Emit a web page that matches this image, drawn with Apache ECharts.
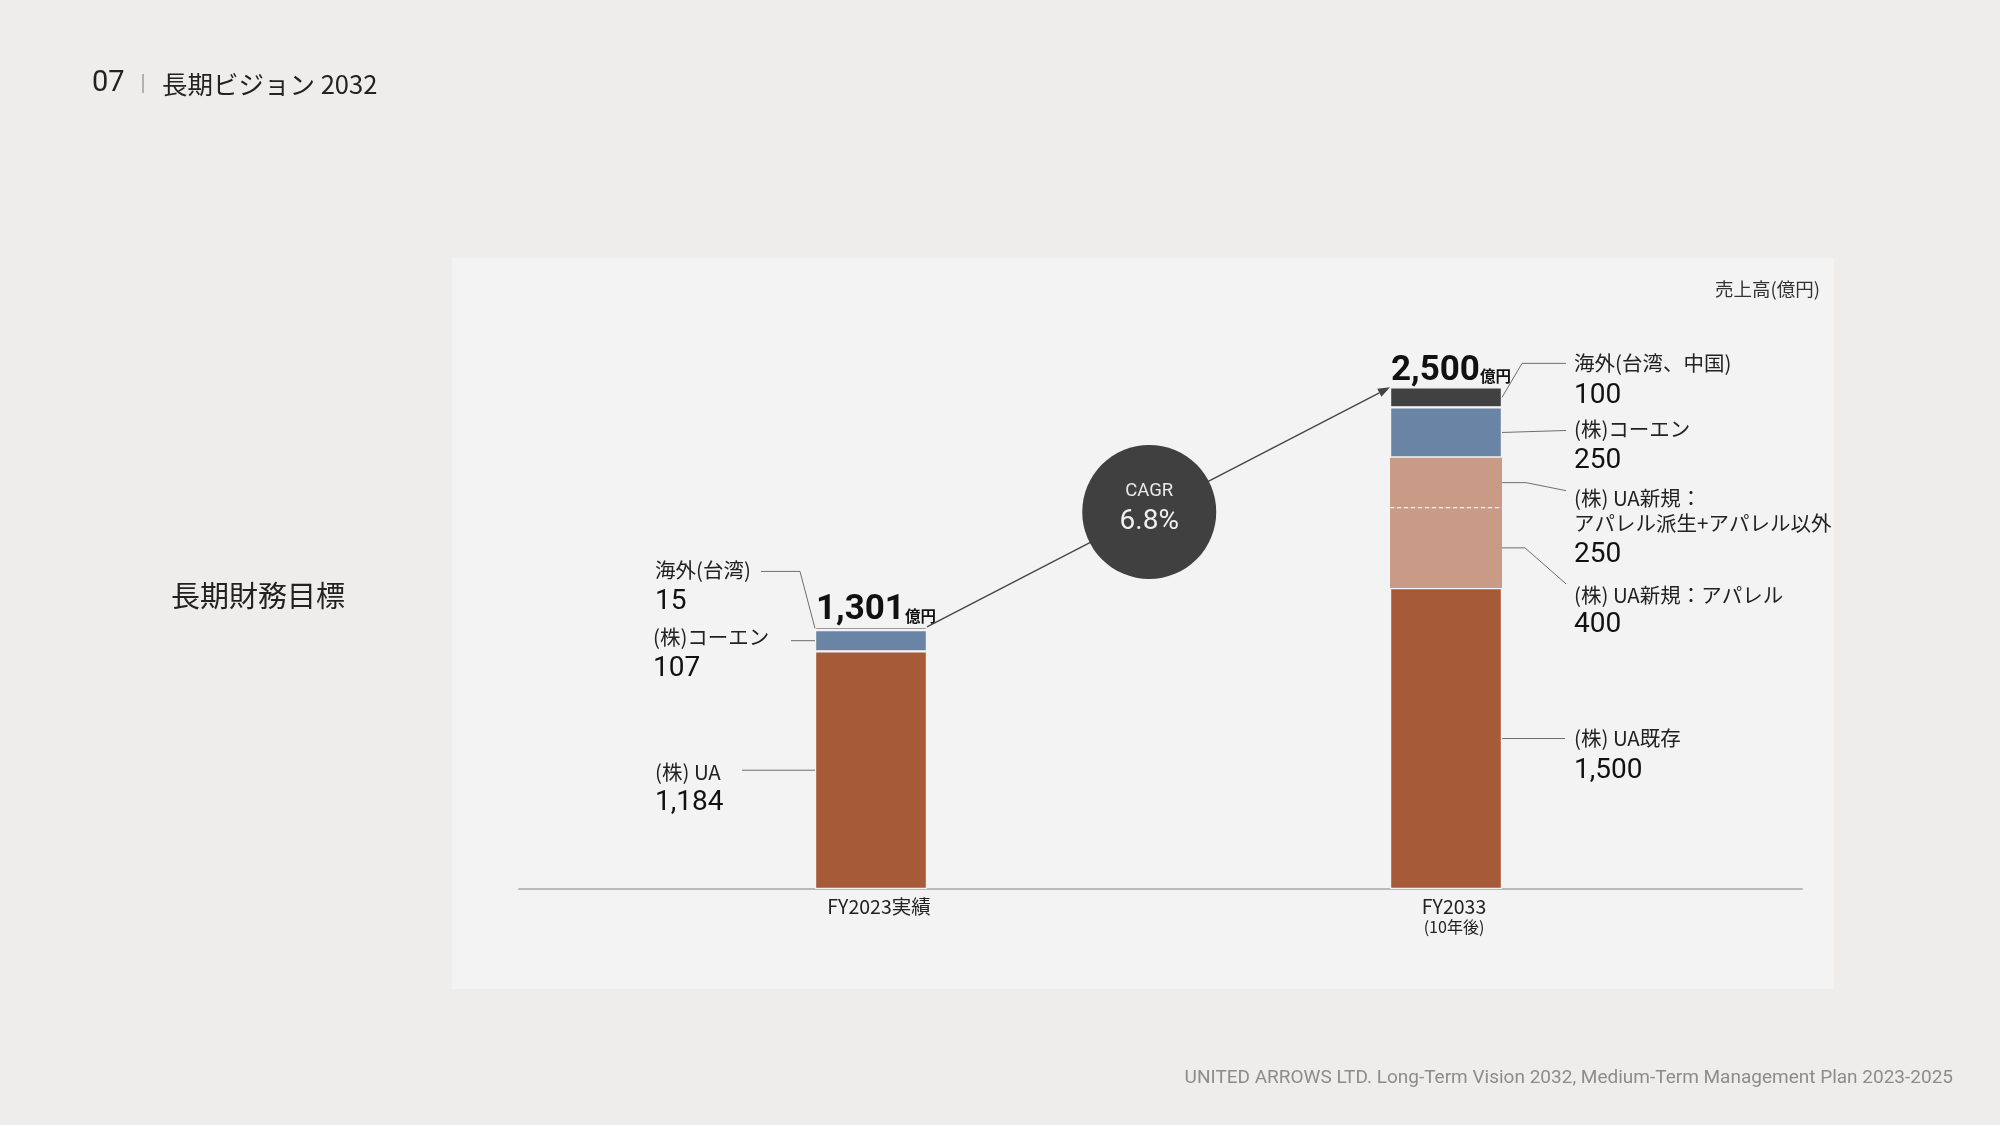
<!DOCTYPE html>
<html>
<head>
<meta charset="utf-8">
<script src="https://cdn.jsdelivr.net/npm/echarts@6/dist/echarts.min.js"></script>
<style>
html,body{margin:0;padding:0;background:#eeedeb;}
#c{width:2000px;height:1125px;}
</style>
</head>
<body>
<div id="c"></div>
<script>
// ---------- data ----------
const categories = ['FY2023実績', 'FY2033'];
const axisLabels = ['FY2023実績', 'FY2033\n{s|(10年後)}'];
const uaExisting   = [1184, 1500];
const uaNewApparel = [0, 400];
const uaNewOther   = [0, 250];
const coen         = [107, 250];
const overseas     = [15, 100];
const totals       = [1301, 2500];
const cagrLabel    = 'CAGR';
const cagrValue    = '6.8%';
const unitLabel    = '売上高(億円)';

const segmentNames = {
  0: { overseas: '海外(台湾)', coen: '(株)コーエン', uaExisting: '(株) UA' },
  1: { overseas: '海外(台湾、中国)', coen: '(株)コーエン',
       uaNewOther: '(株) UA新規：\nアパレル派生+アパレル以外',
       uaNewApparel: '(株) UA新規：アパレル', uaExisting: '(株) UA既存' }
};

// ---------- styles / layout ----------
const CJK = '"Noto Sans CJK JP", sans-serif';
const NUM = 'Roboto, "Noto Sans CJK JP", sans-serif';
const BAR_W = 112;
const PANEL = '#f3f3f3';

const seriesDefs = [
  { key: 'uaExisting',   data: uaExisting,   color: '#a65a37', border: 1.2 },
  { key: 'uaNewApparel', data: uaNewApparel, color: '#c99a86', border: 0 },
  { key: 'uaNewOther',   data: uaNewOther,   color: '#c99a86', border: 0 },
  { key: 'coen',         data: coen,         color: '#6a84a6', border: 1.2 },
  { key: 'overseas',     data: overseas,     color: '#414141', border: 1.2 }
];

// leader-line / label layout (offsets relative to the segment anchor on the bar edge)
const leaderLayout = {
  '0-overseas':     { pts: [[-15, -57], [-54, -57]], tx: -160, nameDy: -58, numDy: -26 },
  '0-coen':         { pts: [[-24, 0]],               tx: -162, nameDy: -3,  numDy: 28 },
  '0-uaExisting':   { pts: [[-73, 0]],               tx: -160, nameDy: 2,   numDy: 33 },
  '1-overseas':     { pts: [[20, -34], [64, -34]],   tx: 72,   nameDy: -34, numDy: -1 },
  '1-coen':         { pts: [[64, -2]],               tx: 72,   nameDy: -3,  numDy: 29 },
  '1-uaNewOther':   { pts: [[24, 0], [64, 8]],       tx: 72,   nameDy: 28,  numDy: 72 },
  '1-uaNewApparel': { pts: [[23, 0], [64, 36]],      tx: 72,   nameDy: 47,  numDy: 77 },
  '1-uaExisting':   { pts: [[63, 0]],                tx: 72,   nameDy: 0,   numDy: 32 }
};

const chart = echarts.init(document.getElementById('c'));

const option = {
  backgroundColor: '#eeedeb',
  animation: false,
  grid: [
    { left: 583.5, right: 266.5, top: 287, bottom: 236 },
    { left: 519, right: 198, top: 287, bottom: 236 }
  ],
  xAxis: [
    {
      type: 'category', data: categories, gridIndex: 0,
      axisLine: { show: false }, axisTick: { show: false },
      axisLabel: {
        margin: 8, fontFamily: CJK, fontSize: 19.5, color: '#222', lineHeight: 20,
        padding: [0, 0, 0, 16],
        formatter: (v, i) => axisLabels[i],
        rich: { s: { fontFamily: CJK, fontSize: 16, color: '#222', lineHeight: 19 } }
      }
    },
    {
      type: 'value', gridIndex: 1, min: 0, max: 1,
      axisLine: { show: true, onZero: false, lineStyle: { color: '#b9b9b9', width: 2 } },
      axisTick: { show: false }, axisLabel: { show: false }, splitLine: { show: false }
    }
  ],
  yAxis: [
    { type: 'value', gridIndex: 0, min: 0, max: 3000, show: false },
    { type: 'value', gridIndex: 1, min: 0, max: 1, show: false }
  ],
  series: seriesDefs.map(d => ({
    name: d.key, type: 'bar', stack: 'total', barWidth: BAR_W, data: d.data,
    xAxisIndex: 0, yAxisIndex: 0, silent: true,
    itemStyle: { color: d.color, borderColor: PANEL, borderWidth: d.border },
    emphasis: { disabled: true }
  }))
};
chart.setOption(option);

// ---------- annotations computed from the scales ----------
const px = (cat, val) => chart.convertToPixel({ xAxisIndex: 0, yAxisIndex: 0 }, [cat, val]);
const mids = {}; const tops = [];
categories.forEach((c, ci) => {
  let cum = 0;
  seriesDefs.forEach(d => {
    const v = d.data[ci] || 0;
    mids[ci + '-' + d.key] = cum + v / 2;
    cum += v;
  });
  tops[ci] = cum;
});

const T = (x, y, text, font, size, fill, align, extra) => Object.assign({
  type: 'text', z: 10, x: x, y: y,
  style: Object.assign({ text: text, fontFamily: font, fontSize: size, fill: fill,
    align: align, verticalAlign: 'middle', textAlign: align, textVerticalAlign: 'middle' }, extra || {})
});

const g = [];
// panel
g.push({ type: 'rect', z: -10, shape: { x: 452, y: 258, width: 1382, height: 731 }, style: { fill: PANEL } });

// header
g.push(T(92, 84, '07', NUM, 29, '#222', 'left'));
g.push({ type: 'line', shape: { x1: 143, y1: 74, x2: 143, y2: 93 }, style: { stroke: '#777', lineWidth: 1 } });
g.push(T(162, 84, '長期ビジョン 2032', CJK, 25.5, '#222', 'left'));
g.push(T(171, 596, '長期財務目標', CJK, 29, '#222', 'left'));
g.push(T(1820, 289, unitLabel, CJK, 18.5, '#333', 'right'));
g.push(T(1953, 1078, 'UNITED ARROWS LTD. Long-Term Vision 2032, Medium-Term Management Plan 2023-2025', NUM, 19, '#8c8c8c', 'right'));

// leader lines + labels
Object.keys(segmentNames).forEach(ciStr => {
  const ci = +ciStr;
  const names = segmentNames[ci];
  Object.keys(names).forEach(key => {
    const lay = leaderLayout[ci + '-' + key];
    const [cx, ay] = px(ci, mids[ci + '-' + key]);
    const ax = ci === 0 ? cx - BAR_W / 2 : cx + BAR_W / 2;
    const pts = [[ax, ay]].concat(lay.pts.map(p => [ax + p[0], ay + p[1]]));
    g.push({ type: 'polyline', z: 10, shape: { points: pts }, style: { stroke: '#6f6f6f', lineWidth: 1, fill: null } });
    const val = seriesDefs.find(d => d.key === key).data[ci];
    g.push(T(ax + lay.tx, ay + lay.nameDy, names[key], CJK, 20.5, '#222', 'left', { lineHeight: 25 }));
    g.push(T(ax + lay.tx, ay + lay.numDy, val.toLocaleString('en-US'), NUM, 28, '#111', 'left'));
  });
});

// dashed split inside the UA-new block
{
  const [cx, y] = px(1, uaExisting[1] + uaNewApparel[1]);
  g.push({ type: 'line', z: 10, shape: { x1: cx - BAR_W / 2, y1: y, x2: cx + BAR_W / 2, y2: y }, style: { stroke: '#ffffff', lineWidth: 1.2, lineDash: [4, 3] } });
}

// totals
categories.forEach((c, ci) => {
  const [cx, y] = px(ci, tops[ci]);
  g.push({
    type: 'text', z: 10, x: cx - BAR_W / 2 + 1, y: y + 1,
    style: {
      text: '{b|' + totals[ci].toLocaleString('en-US') + '}{s|億円}',
      align: 'left', verticalAlign: 'bottom', textAlign: 'left', textVerticalAlign: 'bottom',
      rich: {
        b: { fontFamily: NUM, fontSize: 35, fontWeight: 'bold', fill: '#111', color: '#111', lineHeight: 40, verticalAlign: 'bottom' },
        s: { fontFamily: CJK, fontSize: 15.5, fontWeight: 'bold', fill: '#111', color: '#111', lineHeight: 40, verticalAlign: 'bottom', padding: [0, 0, 4, 0] }
      }
    }
  });
});

// growth arrow + CAGR bubble
{
  const [c0, y0] = px(0, tops[0]);
  const [c1, y1] = px(1, tops[1]);
  const p1 = [c0 + BAR_W / 2, y0], p2 = [c1 - BAR_W / 2, y1];
  const dx = p2[0] - p1[0], dy = p2[1] - p1[1], L = Math.hypot(dx, dy);
  const ux = dx / L, uy = dy / L, nx = -uy, ny = ux;
  const bx = p2[0] - ux * 12, by = p2[1] - uy * 12;
  g.push({ type: 'line', z: 10, shape: { x1: p1[0], y1: p1[1], x2: bx, y2: by }, style: { stroke: '#444', lineWidth: 1.3 } });
  g.push({ type: 'polygon', z: 10, shape: { points: [[p2[0], p2[1]], [bx + nx * 4.5, by + ny * 4.5], [bx - nx * 4.5, by - ny * 4.5]] }, style: { fill: '#444' } });
  const t = 0.48;
  const cx = p1[0] + dx * t, cy = p1[1] + dy * t;
  g.push({ type: 'circle', z: 11, shape: { cx: cx, cy: cy, r: 67 }, style: { fill: '#404040' } });
  g.push(Object.assign(T(cx, cy - 21, cagrLabel, NUM, 18.5, '#e8e8e8', 'center'), { z: 12 }));
  g.push(Object.assign(T(cx, cy + 10, cagrValue, NUM, 28, '#f0f0f0', 'center'), { z: 12 }));
}

chart.setOption({ graphic: { elements: g } });
</script>
</body>
</html>
